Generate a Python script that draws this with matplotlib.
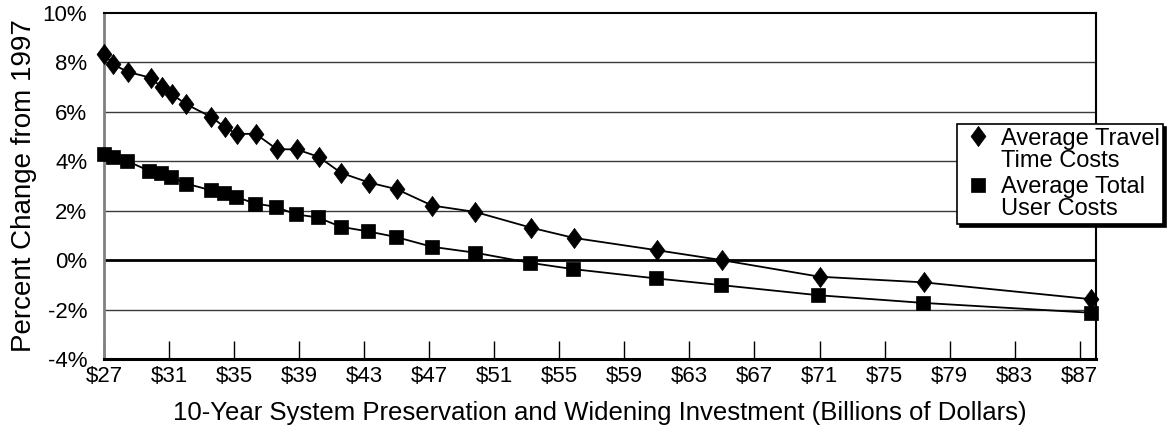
import matplotlib
matplotlib.use("Agg")
import matplotlib.pyplot as plt
from matplotlib.ticker import FuncFormatter

plt.rcParams['font.family'] = ['Liberation Sans', 'DejaVu Sans']

# Investment (billions of dollars)
invest_travel = [27.0, 27.57, 28.45, 29.87, 30.55, 31.18, 32.05, 33.6, 34.45, 35.17,
                 36.32, 37.63, 38.86, 40.2, 41.58, 43.3, 45.0, 47.17, 49.83, 53.28,
                 55.89, 61.02, 65.0, 71.0, 77.42, 87.7]
travel_time = [8.34, 7.92, 7.62, 7.38, 6.99, 6.71, 6.31, 5.79, 5.37, 5.11,
               5.11, 4.49, 4.48, 4.18, 3.53, 3.14, 2.87, 2.21, 1.95, 1.31,
               0.90, 0.40, 0.0, -0.67, -0.90, -1.58]

invest_total = [27.0, 27.57, 28.39, 29.79, 30.49, 31.12, 32.03, 33.57, 34.40, 35.12,
                36.29, 37.56, 38.8, 40.14, 41.56, 43.26, 44.94, 47.17, 49.83, 53.22,
                55.82, 60.95, 64.95, 70.93, 77.38, 87.7]
total_user = [4.29, 4.16, 4.02, 3.61, 3.51, 3.37, 3.10, 2.83, 2.72, 2.56,
              2.29, 2.16, 1.85, 1.73, 1.35, 1.16, 0.94, 0.54, 0.30, -0.11,
              -0.36, -0.74, -1.01, -1.42, -1.73, -2.13]

labels = ["Average Travel\nTime Costs", "Average Total\nUser Costs"]
x_ticks = list(range(27, 88, 4))
y_ticks = list(range(-4, 11, 2))

W, H = 1172, 443
fig = plt.figure(figsize=(W / 100, H / 100), dpi=100)
ax = fig.add_axes([104 / W, 1 - 359 / H, (1096 - 104) / W, (359 - 13) / H])

ax.set_xlim(27, 88)
ax.set_ylim(-4, 10)

# gridlines
for yv in y_ticks:
    if yv in (-4, 10):
        continue
    if yv == 0:
        ax.axhline(yv, color='black', lw=2.0, zorder=1)
    else:
        ax.axhline(yv, color='#3a3a3a', lw=1.0, zorder=1)

diamond = [(0, 1), (0.74, 0), (0, -1), (-0.74, 0), (0, 1)]
ax.plot(invest_travel, travel_time, color='black', lw=1.3, marker=diamond,
        markersize=14.5, markerfacecolor='black', markeredgecolor='black',
        markeredgewidth=0.5, label=labels[0], zorder=3, clip_on=False)
ax.plot(invest_total, total_user, color='black', lw=1.3, marker='s',
        markersize=10, markerfacecolor='black', markeredgecolor='black',
        markeredgewidth=0.5, label=labels[1], zorder=3, clip_on=False)

ax.set_xticks(x_ticks)
ax.set_yticks(y_ticks)
ax.xaxis.set_major_formatter(FuncFormatter(lambda v, p: f"${int(v)}"))
ax.yaxis.set_major_formatter(FuncFormatter(lambda v, p: f"{int(v)}%"))
ax.tick_params(axis='x', direction='in', length=13, width=1.0, color='black',
               labelsize=16, pad=5)
ax.tick_params(axis='y', length=0, labelsize=16, pad=12)

for side in ('top', 'right'):
    ax.spines[side].set_color('black')
    ax.spines[side].set_linewidth(1.5)
ax.spines['bottom'].set_color('black')
ax.spines['bottom'].set_linewidth(2.2)
ax.spines['left'].set_color('#808080')
ax.spines['left'].set_linewidth(2.0)

ax.set_xlabel("10-Year System Preservation and Widening Investment (Billions of Dollars)",
              fontsize=18.5, labelpad=10)
ax.set_ylabel("Percent Change from 1997", fontsize=20, labelpad=4)

leg = ax.legend(loc='upper left', bbox_to_anchor=(957 / W, 1 - 124 / H),
                bbox_transform=fig.transFigure, borderaxespad=0,
                fontsize=17, frameon=True, fancybox=False,
                shadow={'color': 'black', 'alpha': 1.0},
                handlelength=1.5, handletextpad=0.2, labelspacing=0.2,
                borderpad=0.15, numpoints=1)
leg.get_frame().set_edgecolor('black')
leg.get_frame().set_linewidth(1.2)
leg.get_frame().set_alpha(1.0)
for t in leg.get_texts():
    t.set_linespacing(1.0)
for h in leg.legend_handles:
    h.set_linestyle('none')
# align markers with first line of each label
for col in leg._legend_handle_box.get_children():
    for hp in col.get_children():
        hp.align = 'top'
leg.set_zorder(5)

fig.savefig("out.png", dpi=100)
